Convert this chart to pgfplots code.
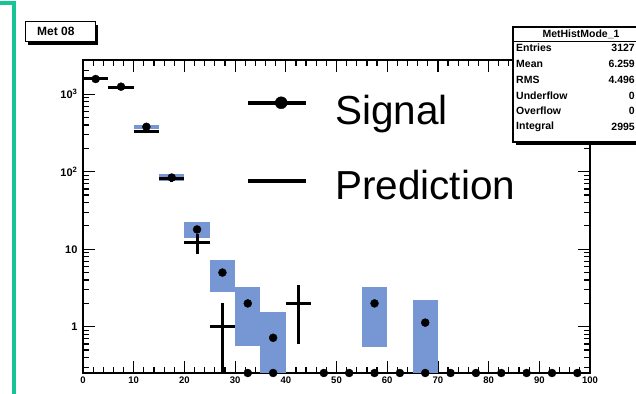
\documentclass[border=0pt]{standalone}
\usepackage{pgfplots}
\pgfplotsset{compat=1.18}
\usepackage{fontspec}
\setmainfont{Liberation Sans}
\definecolor{errblue}{RGB}{118,150,212}
\definecolor{framegreen}{RGB}{22,196,150}

\begin{document}
\begin{tikzpicture}[x=1pt,y=1pt]
\useasboundingbox (0,0) rectangle (636,393);
% green bracket at the left edge
\draw[framegreen, line width=4pt, line join=miter] (-2,389.5) -- (14,389.5) -- (14,-2);
% histogram title box
\fill[black] (28,348) rectangle (98,368);
\draw[line width=1pt, fill=white] (25,351) rectangle (95,371);
\node[font=\bfseries\fontsize{12}{12}\selectfont, anchor=west, inner sep=0pt] at (37,362) {Met 08};

\begin{axis}[
  at={(83pt,20pt)}, anchor=south west,
  width=507pt, height=313pt, scale only axis,
  xmin=0, xmax=100,
  ymode=log, ymin=0.253, ymax=2762,
  clip=false,
  unbounded coords=jump,
  axis line style={line width=2pt},
  tick align=inside,
  major tick length=12pt, minor tick length=6pt,
  tick style={black, line width=1.2pt},
  xtick={0,10,...,100},
  minor x tick num=4,
  ytick={1,10,100,1000},
  yticklabels={1,10,10\textsuperscript{2},10\textsuperscript{3}},
  minor ytick={0.3,0.4,0.5,0.6,0.7,0.8,0.9,2,3,4,5,6,7,8,9,20,30,40,50,60,70,80,90,200,300,400,500,600,700,800,900,2000},
  /pgf/number format/assume math mode=true,
  xticklabel style={font=\bfseries\fontsize{9.5}{9.5}\selectfont},
  yticklabel style={font=\bfseries\fontsize{11}{11}\selectfont, xshift=-2pt},
  legend style={at={(0.3215,0.8894)}, anchor=north west, draw=none, fill=none,
    font=\fontsize{40.5}{40.5}\selectfont, inner sep=0pt, row sep=44.5pt,
    /tikz/column sep=27pt, nodes={inner sep=0pt}},
  legend cell align=left,
]
% uncertainty boxes of the signal
\addplot[fill=errblue, draw=none, forget plot] coordinates {(0,1530) (5,1530) (5,1610) (0,1610)};
\addplot[fill=errblue, draw=none, forget plot] coordinates {(5,1215) (10,1215) (10,1285) (5,1285)};
\addplot[fill=errblue, draw=none, forget plot] coordinates {(10,360) (15,360) (15,400) (10,400)};
\addplot[fill=errblue, draw=none, forget plot] coordinates {(15,75) (20,75) (20,93) (15,93)};
\addplot[fill=errblue, draw=none, forget plot] coordinates {(20,13.8) (25,13.8) (25,22.2) (20,22.2)};
\addplot[fill=errblue, draw=none, forget plot] coordinates {(25,2.8) (30,2.8) (30,7.2) (25,7.2)};
\addplot[fill=errblue, draw=none, forget plot] coordinates {(30,0.56) (35,0.56) (35,3.3) (30,3.3)};
\addplot[fill=errblue, draw=none, forget plot] coordinates {(35,0.253) (40,0.253) (40,1.56) (35,1.56)};
\addplot[fill=errblue, draw=none, forget plot] coordinates {(55,0.55) (60,0.55) (60,3.3) (55,3.3)};
\addplot[fill=errblue, draw=none, forget plot] coordinates {(65,0.253) (70,0.253) (70,2.2) (65,2.2)};
% prediction: bin-wide horizontal bars and vertical error bars
\addplot[black, line width=3pt, forget plot] coordinates {
  (0,1600) (5,1600) (nan,nan) (2.5,1560) (2.5,1640) (nan,nan)
  (5,1230) (10,1230) (nan,nan) (7.5,1195) (7.5,1265) (nan,nan)
  (10,330) (15,330) (nan,nan) (12.5,312) (12.5,348) (nan,nan)
  (15,82) (20,82) (nan,nan) (17.5,73) (17.5,91) (nan,nan)
  (20,12.3) (25,12.3) (nan,nan) (22.5,8.8) (22.5,15.8) (nan,nan)
  (25,1) (30,1) (nan,nan) (27.5,0.253) (27.5,2) (nan,nan)
  (40,2) (45,2) (nan,nan) (42.5,0.59) (42.5,3.41)
};
% empty prediction bins sit on the lower edge
\addplot[black, only marks, mark=*, mark size=4pt, forget plot] coordinates {
  (32.5,0.253) (37.5,0.253) (47.5,0.253) (52.5,0.253) (57.5,0.253)
  (62.5,0.253) (67.5,0.253) (72.5,0.253) (77.5,0.253) (82.5,0.253)
  (87.5,0.253) (92.5,0.253) (97.5,0.253)
};
% signal
\addplot[black, only marks, mark=*, mark size=4pt, forget plot] coordinates {
  (2.5,1570) (7.5,1250) (12.5,380) (17.5,84) (22.5,18) (27.5,5)
  (32.5,2) (37.5,0.72) (57.5,2) (67.5,1.13)
};
\addlegendimage{legend image code/.code={
  \draw[line width=4pt] (0pt,7.5pt) -- (58pt,7.5pt);
  \fill (33pt,7.5pt) circle (6pt);}}
\addlegendentry{Signal}
\addlegendimage{legend image code/.code={
  \draw[line width=4pt] (0pt,4.5pt) -- (58pt,4.5pt);}}
\addlegendentry{Prediction}
\end{axis}

% statistics box, drawn over the frame
\fill[black] (516,248) rectangle (660,363);
\draw[line width=1.2pt, fill=white] (513,251) rectangle (655,366);
\draw[line width=1pt] (513,351) -- (655,351);
\begin{scope}[every node/.style={font=\bfseries\fontsize{10.5}{10.5}\selectfont, inner sep=0pt}]
\node at (581,359) {MetHistMode\_1};
\node[anchor=west] at (516,345) {Entries};   \node[anchor=east] at (635,345) {3127};
\node[anchor=west] at (516,329) {Mean};      \node[anchor=east] at (635,329) {6.259};
\node[anchor=west] at (516,313) {RMS};       \node[anchor=east] at (635,313) {4.496};
\node[anchor=west] at (516,297) {Underflow}; \node[anchor=east] at (635,297) {0};
\node[anchor=west] at (516,282) {Overflow};  \node[anchor=east] at (635,282) {0};
\node[anchor=west] at (516,266) {Integral};  \node[anchor=east] at (635,266) {2995};
\end{scope}
\end{tikzpicture}
\end{document}
